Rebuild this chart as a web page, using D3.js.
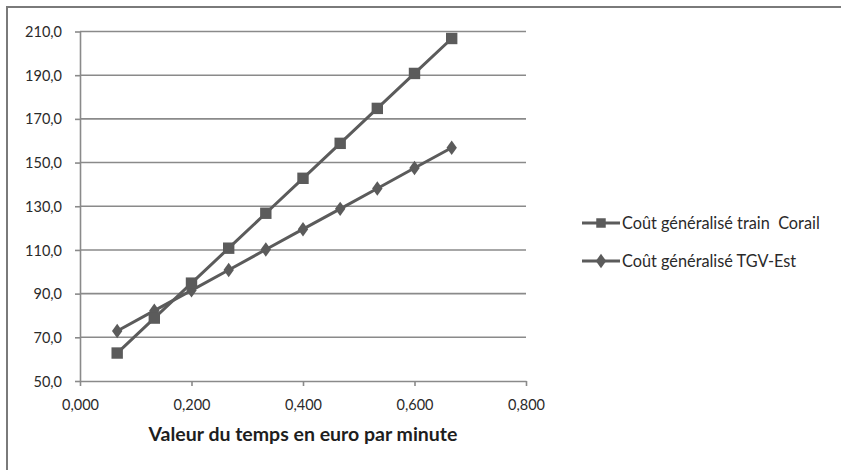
<!DOCTYPE html>
<html><head><meta charset="utf-8">
<script src="https://cdn.jsdelivr.net/npm/d3@7"></script>
<style>body{margin:0;background:#fff}svg{display:block;font-family:Lato,"Open Sans",sans-serif}</style>
</head><body><svg id="c" width="841" height="470"></svg>
<script>
const xValues = [0.0667, 0.1333, 0.2, 0.2667, 0.3333, 0.4, 0.4667, 0.5333, 0.6, 0.6667];
const corail = [62.8, 78.8, 94.8, 110.8, 126.8, 142.8, 158.8, 174.8, 190.8, 206.8];
const tgv = [72.9, 82.2, 91.5, 100.8, 110.2, 119.5, 128.8, 138.1, 147.5, 156.8];
const seriesNames = ["Coût généralisé train  Corail", "Coût généralisé TGV-Est"];
const xTicks = [0, 0.2, 0.4, 0.6, 0.8];
const yTicks = [50, 70, 90, 110, 130, 150, 170, 190, 210];
const xTitle = "Valeur du temps en euro par minute";

const svg = d3.select("#c");
const lineCol = "#5b5b5b", gridCol = "#8a8a8a", textCol = "#2a2a2a";
svg.append("rect").attr("x",7).attr("y",7).attr("width",850).attr("height",480)
  .attr("fill","#fff").attr("stroke","#7a7a7a").attr("stroke-width",2);

const x = d3.scaleLinear().domain([0,0.8]).range([80,526]);
const y = d3.scaleLinear().domain([50,210]).range([381,31.5]);
const fmtX = v => d3.format(".3f")(v).replace(".", ",");
const fmtY = v => d3.format(".1f")(v).replace(".", ",");

// grid
svg.append("g").selectAll("line").data(yTicks.slice(1)).join("line")
  .attr("x1",x(0)).attr("x2",x(0.8)).attr("y1",d=>y(d)).attr("y2",d=>y(d))
  .attr("stroke",gridCol).attr("stroke-width",1.6);

const gx = svg.append("g").attr("transform",`translate(0,${y(50)})`)
  .call(d3.axisBottom(x).tickValues(xTicks).tickFormat(fmtX).tickSize(5).tickSizeOuter(0));
const gy = svg.append("g").attr("transform",`translate(${x(0)},0)`)
  .call(d3.axisLeft(y).tickValues(yTicks).tickFormat(fmtY).tickSize(5).tickSizeOuter(0));
[gx,gy].forEach(g=>{
  g.select(".domain").attr("stroke",gridCol).attr("stroke-width",1.6);
  g.selectAll(".tick line").attr("stroke",gridCol).attr("stroke-width",1.6);
  g.selectAll("text").attr("fill",textCol).style("font-size","14.5px").style("font-family","Lato,'Open Sans',sans-serif");
});
gx.selectAll("text").attr("y",0).attr("dy","0").attr("transform","translate(0,29)");
gy.selectAll("text").attr("x",-18).attr("dy","0.35em");

svg.append("text").attr("x",(x(0)+x(0.8))/2).attr("y",441).attr("text-anchor","middle")
  .attr("fill","#1e1e1e").style("font-size","19.5px").style("font-weight","bold").text(xTitle);

const line = d3.line().x((d,i)=>x(xValues[i])).y(d=>y(d));
const sq = d3.symbol().type(d3.symbolSquare).size(130);
const di = d3.symbol().type(d3.symbolDiamond).size(60);

svg.append("path").datum(tgv).attr("d",line).attr("fill","none").attr("stroke",lineCol).attr("stroke-width",3);
svg.append("g").selectAll("path").data(tgv).join("path")
  .attr("transform",(d,i)=>`translate(${x(xValues[i])},${y(d)}) scale(1.25,1)`).attr("d",di).attr("fill",lineCol);
svg.append("path").datum(corail).attr("d",line).attr("fill","none").attr("stroke",lineCol).attr("stroke-width",3);
svg.append("g").selectAll("path").data(corail).join("path")
  .attr("transform",(d,i)=>`translate(${x(xValues[i])},${y(d)})`).attr("d",sq).attr("fill",lineCol);

// legend
const leg = svg.append("g");
[[sq,1,223],[di,1.25,261]].forEach(([sym,sx,ly],k)=>{
  leg.append("line").attr("x1",582).attr("x2",620).attr("y1",ly).attr("y2",ly).attr("stroke",lineCol).attr("stroke-width",3);
  leg.append("path").attr("d",k===0?d3.symbol().type(d3.symbolSquare).size(90)():sym())
    .attr("transform",`translate(601,${ly}) scale(${sx},1)`).attr("fill",lineCol);
  leg.append("text").attr("x",622).attr("y",ly).attr("dy","0.35em").attr("fill",textCol)
    .style("font-size","16.3px").style("white-space","pre").text(seriesNames[k]);
});
</script></body></html>
